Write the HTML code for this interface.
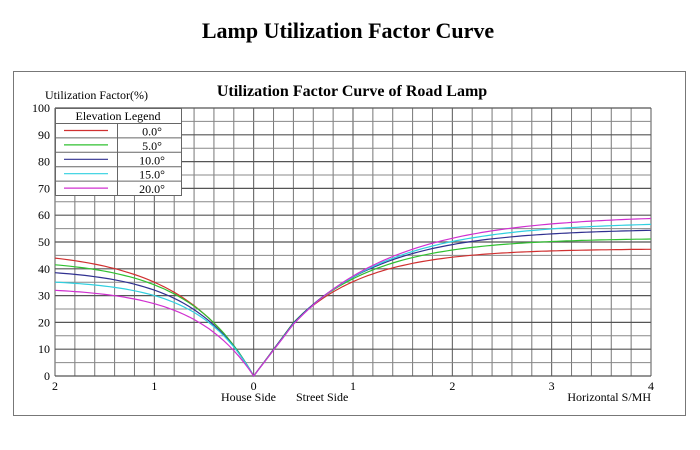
<!DOCTYPE html>
<html><head><meta charset="utf-8"><style>
html,body{margin:0;padding:0;background:#fff;}
svg text{font-family:"Liberation Serif",serif;}
</style></head><body>
<svg id="s" width="700" height="445" xmlns="http://www.w3.org/2000/svg">
<rect width="700" height="445" fill="#fff"/>
<text x="348" y="38" font-size="22" font-weight="bold" text-anchor="middle">Lamp Utilization Factor Curve</text>
<rect x="13.5" y="71.5" width="672" height="344" fill="none" stroke="#777" stroke-width="1"/>
<text x="352" y="96" font-size="16" font-weight="bold" text-anchor="middle">Utilization Factor Curve of  Road Lamp</text>
<text x="45" y="99" font-size="12">Utilization Factor(%)</text>
<g id="grid"></g>
<g id="curves"></g>
<g id="legend"></g>
<text x="276" y="401" font-size="12" text-anchor="end">House Side</text>
<text x="296" y="401" font-size="12">Street Side</text>
<text x="651" y="401" font-size="12" text-anchor="end">Horizontal  S/MH</text>
</svg>
<script>
var ns="http://www.w3.org/2000/svg";
function el(p,t,a,txt){var e=document.createElementNS(ns,t);for(var k in a)e.setAttribute(k,a[k]);if(txt!==undefined)e.textContent=txt;p.appendChild(e);return e;}
var L=55,R=651,T=108,B=376,U=(R-L)/6,X0=L+2*U;
function px(v){return X0+v*U;} function py(v){return B-(B-T)*v/100;}
var g=document.getElementById('grid'),S=document.getElementById('s');
for(var i=0;i<=30;i++){var x=L+i*(R-L)/30;el(g,'line',{x1:x,x2:x,y1:T,y2:B,stroke:i%5==0?'#555':'#777','stroke-width':1});}
for(var j=0;j<=20;j++){var y=B-j*(B-T)/20;el(g,'line',{x1:L,x2:R,y1:y,y2:y,stroke:j%2==0?'#555':'#888','stroke-width':j%2==0?1.2:1});
 if(j%2==0)el(S,'text',{x:L-5,y:y+4,'font-size':12,'text-anchor':'end'},String(j*5));}
var lab=[["2",-2],["1",-1],["0",0],["1",1],["2",2],["3",3],["4",4]];
lab.forEach(function(l){el(S,'text',{x:px(l[1]),y:390,'font-size':12,'text-anchor':'middle'},l[0]);});
var ser=[["#d03030",47.1,0.736,47.5,0.74],["#30c030",43.6,0.66,51.5,0.82],["#303090",40.2,0.627,55,0.9],["#30d0e0",36,0.558,57.5,0.97],["#d030d0",33.1,0.593,60,1.03]];
var c=document.getElementById('curves');
ser.forEach(function(s){var pts=[];
 for(var v=-2;v<=0.0001;v+=0.05){var a=-v;pts.push(px(v).toFixed(1)+","+py(s[1]*(1-Math.exp(-a/s[2]))).toFixed(1));}
 for(var v=0.05;v<=4.0001;v+=0.05){var f=s[3]*(1-Math.exp(-v/s[4]));if(v<0.4){f=v/0.4*(s[3]*(1-Math.exp(-0.4/s[4])));}
 pts.push(px(v).toFixed(1)+","+py(f).toFixed(1));}
 el(c,'polyline',{points:pts.join(' '),fill:'none',stroke:s[0],'stroke-width':1.2});});
var lg=document.getElementById('legend');
el(lg,'rect',{x:55.5,y:108.5,width:126,height:87,fill:'#fff',stroke:'#666'});
el(lg,'text',{x:118,y:120,'font-size':12,'text-anchor':'middle'},'Elevation Legend');
el(lg,'line',{x1:55,x2:181,y1:123.5,y2:123.5,stroke:'#666'});
el(lg,'line',{x1:117.5,x2:117.5,y1:123,y2:195,stroke:'#666'});
var names=['0.0°','5.0°','10.0°','15.0°','20.0°'];
for(var k=0;k<5;k++){var y0=123.5+k*14.4;
 if(k>0)el(lg,'line',{x1:55,x2:181,y1:y0,y2:y0,stroke:'#666'});
 el(lg,'line',{x1:64,x2:108,y1:y0+7,y2:y0+7,stroke:ser[k][0],'stroke-width':1.2});
 el(lg,'text',{x:152,y:y0+12,'font-size':12,'text-anchor':'middle'},names[k]);}
</script>
</body></html>
